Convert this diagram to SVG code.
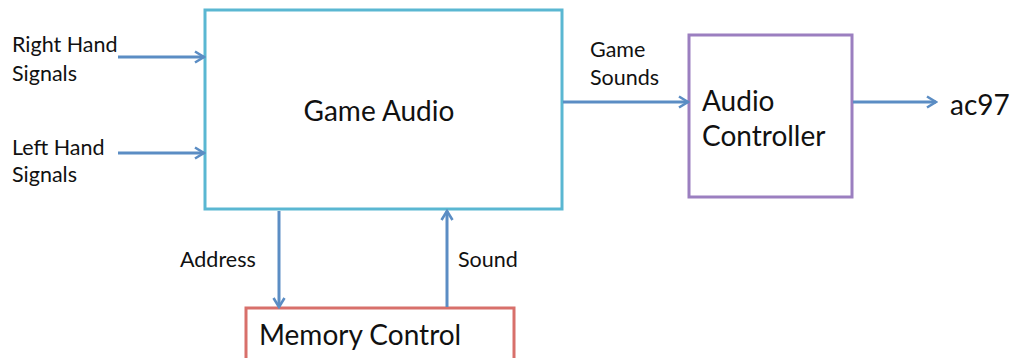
<svg xmlns="http://www.w3.org/2000/svg" width="1015" height="358" viewBox="0 0 1015 358">
<defs>
<marker id="ah" markerWidth="14" markerHeight="14" refX="12" refY="7" orient="auto" markerUnits="userSpaceOnUse" viewBox="0 0 14 14">
<path d="M3,1.5 L12,7 L3,12.5" fill="none" stroke="#5b8dc4" stroke-width="2.6" stroke-linejoin="miter"/>
</marker>
<style>
text{font-family:"Lato","Open Sans","Liberation Sans",sans-serif;fill:#111}
.s{font-size:21.5px}
.l{font-size:28px}
.c{stroke:#5b8dc4;stroke-width:3;fill:none;marker-end:url(#ah)}
</style>
</defs>
<rect width="1015" height="358" fill="#fff"/>
<g id="game-audio">
<rect x="205" y="10" width="357" height="199" fill="#fff" stroke="#5ab7d2" stroke-width="3"/>
<text class="l" x="379" y="121" text-anchor="middle">Game Audio</text>
</g>
<g id="audio-controller">
<rect x="689" y="35" width="163" height="162" fill="#fff" stroke="#9b7fc0" stroke-width="3"/>
<text class="l" x="702" y="111">Audio</text>
<text class="l" x="702" y="146">Controller</text>
</g>
<g id="memory-control">
<rect x="246" y="308" width="268" height="60" fill="#fff" stroke="#d8706b" stroke-width="3"/>
<text class="l" x="259" y="345">Memory Control</text>
</g>
<g id="labels">
<text class="s" x="12" y="52">Right Hand</text>
<text class="s" x="12" y="81">Signals</text>
<text class="s" x="12" y="155">Left Hand</text>
<text class="s" x="12" y="182">Signals</text>
<text class="s" x="590" y="57">Game</text>
<text class="s" x="590" y="85">Sounds</text>
<text class="l" x="950" y="115">ac97</text>
<text class="s" x="180" y="267">Address</text>
<text class="s" x="458" y="267">Sound</text>
</g>
<g id="connectors">
<line class="c" x1="118" y1="57" x2="204" y2="57"/>
<line class="c" x1="118" y1="153" x2="204" y2="153"/>
<line class="c" x1="563" y1="102" x2="688" y2="102"/>
<line class="c" x1="853" y1="102" x2="936" y2="102"/>
<line class="c" x1="279" y1="211" x2="279" y2="307"/>
<line class="c" x1="447" y1="307" x2="447" y2="211"/>
</g>
</svg>
